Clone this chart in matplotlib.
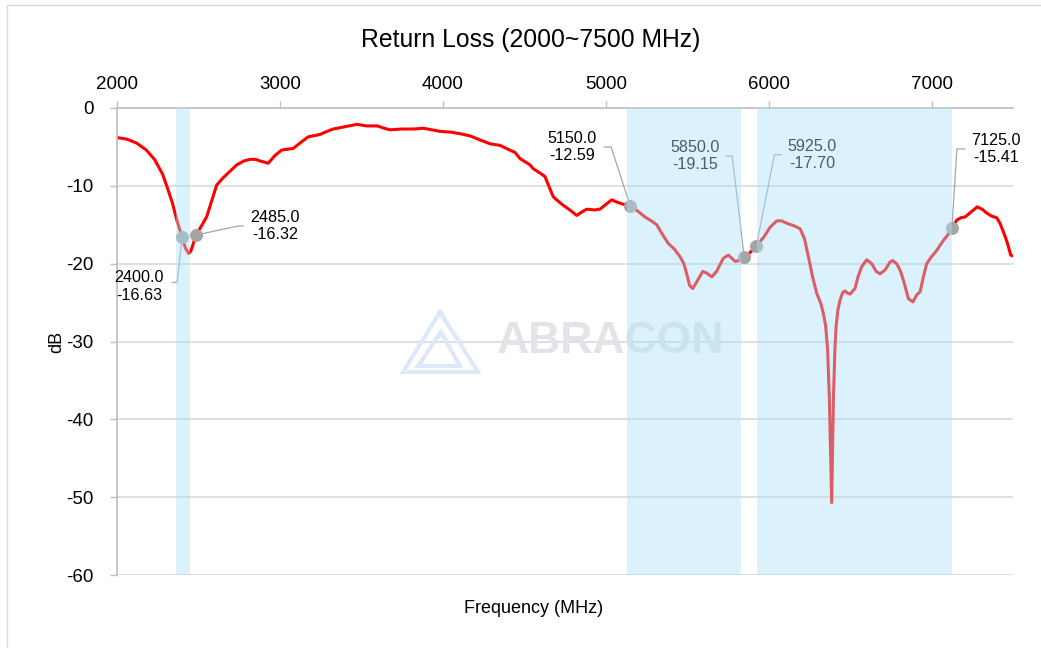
import matplotlib.pyplot as plt
from matplotlib.patches import Rectangle, Polygon
import numpy as np

plt.rcParams['font.family'] = ['Liberation Sans', 'DejaVu Sans']
plt.rcParams['axes.unicode_minus'] = False

# measured return loss (MHz, dB)
freq = [2000, 2060, 2120, 2180, 2230, 2280, 2310, 2340, 2370, 2400,
        2420, 2440, 2455, 2470, 2485, 2520, 2550, 2580, 2612, 2650,
        2700, 2735, 2780, 2816, 2850, 2878, 2928, 2970, 3011, 3081,
        3130, 3174, 3246, 3290, 3327, 3400, 3473, 3530, 3596, 3640,
        3676, 3750, 3820, 3880, 3930, 3983, 4050, 4105, 4170, 4228,
        4290, 4351, 4400, 4443, 4474, 4535, 4555, 4600, 4627, 4650,
        4678, 4710, 4739, 4780, 4822, 4850, 4883, 4930, 4965, 5000,
        5037, 5070, 5098, 5150, 5200, 5241, 5280, 5313, 5350, 5384,
        5420, 5456, 5480, 5497, 5515, 5534, 5560, 5595, 5620, 5651,
        5680, 5722, 5753, 5794, 5820, 5850, 5890, 5925, 5970, 6010,
        6050, 6080, 6110, 6152, 6193, 6220, 6244, 6270, 6295, 6320,
        6336, 6350, 6362, 6373, 6387, 6398, 6407, 6414, 6425, 6438,
        6455, 6469, 6485, 6500, 6530, 6550, 6571, 6602, 6633, 6660,
        6684, 6715, 6745, 6762, 6786, 6810, 6827, 6858, 6886, 6910,
        6930, 6950, 6970, 7000, 7032, 7073, 7100, 7125, 7155, 7180,
        7206, 7240, 7281, 7310, 7339, 7370, 7400, 7420, 7441, 7465,
        7486, 7500]
loss = [-3.8, -4.0, -4.5, -5.4, -6.6, -8.5, -10.3, -12.2, -14.6, -16.63,
        -18.0, -18.7, -18.3, -17.3, -16.32, -15.1, -14.0, -12.0, -9.9, -9.0,
        -8.0, -7.3, -6.8, -6.6, -6.6, -6.8, -7.1, -6.1, -5.4, -5.2,
        -4.4, -3.7, -3.4, -3.0, -2.7, -2.4, -2.1, -2.3, -2.3, -2.6,
        -2.8, -2.7, -2.7, -2.6, -2.8, -3.0, -3.1, -3.3, -3.6, -4.1,
        -4.6, -4.8, -5.3, -5.7, -6.5, -7.3, -7.8, -8.4, -8.8, -10.0,
        -11.4, -12.0, -12.5, -13.1, -13.8, -13.4, -13.0, -13.1, -13.0, -12.4,
        -11.8, -12.1, -12.3, -12.59, -13.3, -14.0, -14.5, -15.0, -16.3, -17.4,
        -18.1, -19.1, -20.0, -21.3, -22.8, -23.2, -22.3, -21.0, -21.2, -21.7,
        -21.0, -19.3, -18.9, -19.7, -19.6, -19.15, -18.5, -17.70, -16.6, -15.3,
        -14.5, -14.5, -14.8, -15.1, -15.5, -16.8, -19.1, -21.7, -23.8, -25.1,
        -26.4, -28.0, -31.0, -37.5, -50.7, -37.0, -31.0, -28.1, -26.0, -24.7,
        -23.7, -23.5, -23.8, -23.9, -23.2, -21.6, -20.4, -19.5, -20.0, -21.0,
        -21.3, -20.8, -19.8, -19.6, -20.0, -21.0, -22.1, -24.5, -24.9, -24.0,
        -23.6, -21.7, -20.0, -19.1, -18.3, -17.0, -16.3, -15.41, -14.4, -14.1,
        -14.0, -13.4, -12.7, -13.0, -13.5, -13.9, -14.1, -14.8, -15.9, -17.3,
        -18.9, -19.0]

# shaded bands (as drawn) and marked points
band_lo = [2364, 5130, 5930]
band_hi = [2450, 5830, 7125]
mark_f = [2400, 2485, 5150, 5850, 5925, 7125]
mark_v = [-16.63, -16.32, -12.59, -19.15, -17.70, -15.41]

xticks = [2000, 3000, 4000, 5000, 6000, 7000]
yticks = [0, -10, -20, -30, -40, -50, -60]

fig = plt.figure(figsize=(10.41, 6.48), dpi=100)
ax = fig.add_axes([117/1041, 73/648, 896/1041, 467/648])

ax.plot(freq, loss, color='red', lw=2.2, zorder=2)
ax.scatter(mark_f, mark_v, s=70, color='#a5a5a5', zorder=3)

for lo, hi in zip(band_lo, band_hi):
    ax.axvspan(lo, hi, color='#aae2f8', alpha=0.42, lw=0, zorder=6)

ax.set_xlim(2000, 7500)
ax.set_ylim(-60, 0)
ax.set_xticks(xticks)
ax.set_yticks(yticks)
ax.xaxis.tick_top()
ax.tick_params(axis='x', length=5, width=1, color='#bfbfbf', pad=6, labelsize=13.5)
ax.tick_params(axis='y', length=5, width=1, color='#bfbfbf', pad=12, labelsize=13.5)
ax.grid(axis='y', color='#d9d9d9', lw=1.2, zorder=0)
ax.set_axisbelow(True)
for s in ['right', 'bottom']:
    ax.spines[s].set_visible(False)
for s in ['left', 'top']:
    ax.spines[s].set_color('#bfbfbf')
    ax.spines[s].set_linewidth(1.2)

ax.set_xlabel('Frequency (MHz)', fontsize=13, va='center')
ax.xaxis.set_label_coords(0.465, -0.0707)
ax.set_ylabel('dB', fontsize=13, va='center')
ax.yaxis.set_label_coords(-0.067, 0.5)

fig.text(531/1041, 1 - 40/648, 'Return Loss (2000~7500 MHz)', fontsize=17.8,
         ha='center', va='center')

# labels: elbow offset (px), leader end offset, text offset from elbow
elbow = [(-5, -45), (42, 9), (-19, 59), (-12, 101), (18, 91), (5, 79)]
tail = [-5, 5, -7, -6, 7, 8]
txt = [(-38, -4), (37, 0), (-39, 0), (-37, 0), (38, 0), (39, 0)]
fig.canvas.draw()
for f, v, e, t, o in zip(mark_f, mark_v, elbow, tail, txt):
    px, py = ax.transData.transform((f, v))
    ex, ey = px + e[0], py + e[1]
    ax.plot([px, ex, ex + t], [py, ey, ey], color='#a6a6a6', lw=0.9,
            transform=None, zorder=4)
    ax.text(ex + o[0], ey + o[1], f'{f:.1f}\n{v:.2f}', transform=None,
            ha='center', va='center', multialignment='center', fontsize=11.6,
            linespacing=1.2, zorder=4)

# faint watermark
ax.text(0.551, 0.501, 'ABRACON', transform=ax.transAxes, fontsize=32,
        fontweight='bold', color='#e3e4e9', ha='center', va='center', zorder=1)
tri = [(440, 312), (403, 372), (478, 372)]
inner = [(441, 332), (418, 366), (460, 366)]
for pts, w in [(tri, 3), (inner, 3)]:
    fp = [(x / 1041, 1 - y / 648) for x, y in pts]
    fig.patches.append(Polygon(fp, closed=True, fill=False, ec='#dde8f8', lw=w,
                               transform=fig.transFigure, zorder=0))

fig.patches.append(Rectangle((7/1041, -0.05), 1.1, 1 - 5/648 + 0.05, fill=False,
                             ec='#d9d9d9', lw=1, transform=fig.transFigure))

fig.savefig('out.png', dpi=100)
